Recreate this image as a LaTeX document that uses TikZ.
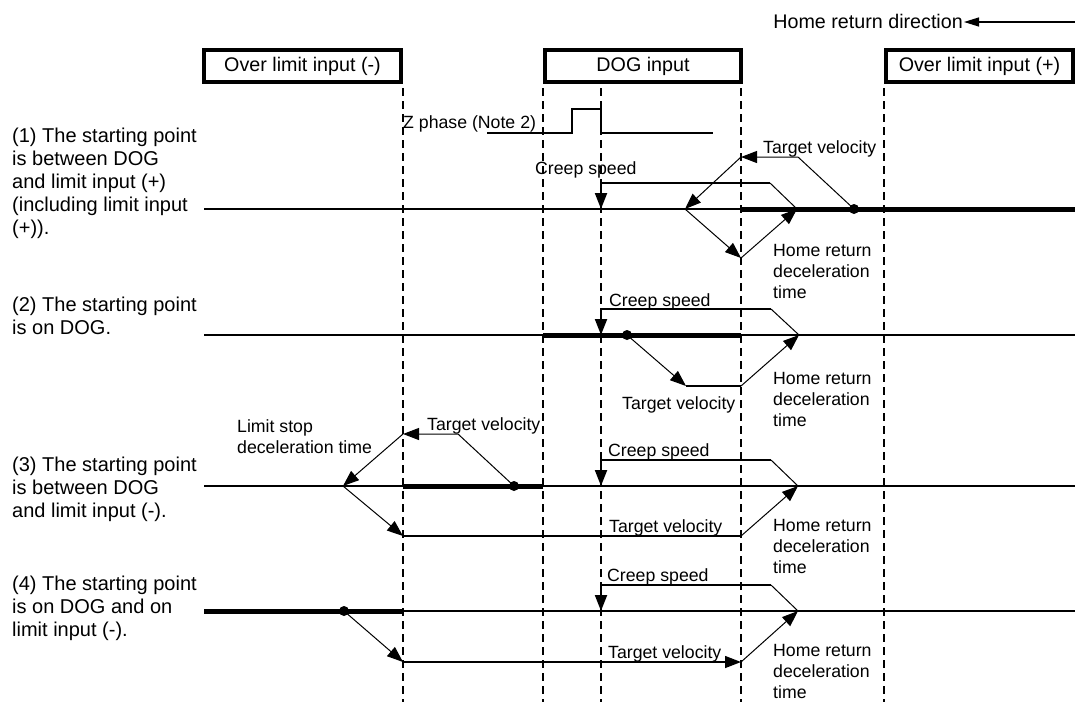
\documentclass[tikz,border=0pt]{standalone}
\usepackage{fontspec}
\setmainfont{Liberation Sans}
\usetikzlibrary{arrows.meta}
\begin{document}
\begin{tikzpicture}[x=1pt,y=-1pt,
  boxtxt/.style={font=\fontsize{19.7}{23}\selectfont},
  lbl/.style={font=\fontsize{17.7}{20.7}\selectfont, inner sep=0pt, anchor=base west, align=left},
  lefttxt/.style={font=\fontsize{20}{23}\selectfont, inner sep=0pt, anchor=base west, align=left},
  inbox/.style={draw, line width=3.5pt, inner sep=0pt, boxtxt},
  guide/.style={line width=1.6pt, dash pattern=on 8pt off 5pt},
  baseln/.style={line width=2pt},
  heavy/.style={line width=5pt},
  thinl/.style={line width=1pt},
  speed/.style={line width=2pt},
  tip/.style={-{Triangle[length=16pt,width=12pt]}},
  dot/.style={circle, fill, inner sep=0pt, minimum size=10pt},
]
\useasboundingbox (0,0) rectangle (1075,702);

% guide lines
\foreach \n/\x in {a/403,b/543,c/601,d/741,e/884}{
  \coordinate (g\n t) at (\x,88);
  \coordinate (g\n b) at (\x,702);
  \draw[guide] (g\n t) -- (g\n b);
}

% header boxes
\node[inbox, minimum width=197pt, minimum height=32pt] (bminus) at (302.5,66) {Over limit input (-)};
\node[inbox, minimum width=196pt, minimum height=32pt] (bdog) at (643,66) {DOG input};
\node[inbox, minimum width=187pt, minimum height=32pt] (bplus) at (979.5,66) {Over limit input (+)};

% home return direction
\node[boxtxt, inner sep=0pt, anchor=base east] (hrd) at (963,28) {Home return direction};
\coordinate (hrs) at (1075,22);
\coordinate (hrt) at (964,22);
\draw[line width=1.2pt, -{Triangle[length=15pt,width=9pt]}] (hrs) -- (hrt);

% left descriptions (anchor = baseline of last line)
\node[lefttxt] (L1) at (12,234) {(1) The starting point\\is between DOG\\and limit input (+)\\(including limit input\\(+)).};
\node[lefttxt] (L2) at (12,334) {(2) The starting point\\is on DOG.};
\node[lefttxt] (L3) at (12,517) {(3) The starting point\\is between DOG\\and limit input (-).};
\node[lefttxt] (L4) at (12,636) {(4) The starting point\\is on DOG and on\\limit input (-).};

% ---------------- Row 1 ----------------
\coordinate (r1s) at (204,209);
\coordinate (r1d) at (741,209);
\coordinate (r1e) at (1075,209);
\draw[baseln] (r1s) -- (r1d);
\draw[heavy] (r1d) -- (r1e);
% Z phase
\coordinate (z0) at (487,133);
\coordinate (z1) at (572,133);
\coordinate (z2) at (572,109);
\coordinate (z3) at (601,109);
\coordinate (z4) at (601,133);
\coordinate (z5) at (713,133);
\draw[speed] (z0) -- (z1) -- (z2) -- (z3) -- (z4) -- (z5);
\node[lbl] (zlab) at (403,128) {Z phase (Note 2)};
% creep
\coordinate (c1a) at (601,183);
\coordinate (c1b) at (770,183);
\coordinate (c1c) at (797,209);
\coordinate (c1t) at (601,209);
\draw[thinl] (c1b) -- (c1c);
\draw[speed,tip] (c1b) -- (c1a) -- (c1t);
% target
\coordinate (t1a) at (798,157);
\coordinate (t1b) at (741,157);
\coordinate (t1c) at (685,209);
\coordinate (t1d) at (741,258);
\node[dot] (d1) at (854,209) {};
\draw[thinl,tip] (d1.center) -- (t1a) -- (t1b);
\draw[thinl,tip] (t1b) -- (t1c);
\draw[thinl,tip] (t1c) -- (t1d);
\draw[thinl,tip] (t1d) -- (c1c);
\node[lbl] (cs1) at (535,174) {Creep speed};
\node[lbl] (tv1) at (763,153) {Target velocity};
\node[lbl] (hr1) at (773,298) {Home return\\deceleration\\time};

% ---------------- Row 2 ----------------
\coordinate (r2s) at (204,335);
\coordinate (r2a) at (543,335);
\coordinate (r2d) at (741,335);
\coordinate (r2e) at (1075,335);
\draw[baseln] (r2s) -- (r2a);
\draw[heavy] (r2a) -- (r2d);
\draw[baseln] (r2d) -- (r2e);
\coordinate (c2a) at (601,309);
\coordinate (c2b) at (771,309);
\coordinate (c2c) at (799,335);
\coordinate (c2t) at (601,335);
\draw[thinl] (c2b) -- (c2c);
\draw[speed,tip] (c2b) -- (c2a) -- (c2t);
\coordinate (t2a) at (686,386);
\coordinate (t2b) at (741,386);
\node[dot] (d2) at (627,335) {};
\draw[thinl,tip] (d2.center) -- (t2a);
\draw[speed] (t2a) -- (t2b);
\draw[thinl,tip] (t2b) -- (c2c);
\node[lbl] (cs2) at (609,306) {Creep speed};
\node[lbl] (tv2) at (622,409) {Target velocity};
\node[lbl] (hr2) at (773,426) {Home return\\deceleration\\time};

% ---------------- Row 3 ----------------
\coordinate (r3s) at (204,486);
\coordinate (r3a) at (403,486);
\coordinate (r3b) at (543,486);
\coordinate (r3e) at (1075,486);
\draw[baseln] (r3s) -- (r3a);
\draw[heavy] (r3a) -- (r3b);
\draw[baseln] (r3b) -- (r3e);
\coordinate (c3a) at (601,460);
\coordinate (c3b) at (771,460);
\coordinate (c3c) at (798,486);
\coordinate (c3t) at (601,486);
\draw[thinl] (c3b) -- (c3c);
\draw[speed,tip] (c3b) -- (c3a) -- (c3t);
\coordinate (t3a) at (458,434);
\coordinate (t3b) at (403,434);
\coordinate (t3c) at (343,486);
\coordinate (t3d) at (403,536);
\coordinate (t3e) at (741,536);
\node[dot] (d3) at (514,486) {};
\draw[thinl,tip] (d3.center) -- (t3a) -- (t3b);
\draw[thinl,tip] (t3b) -- (t3c);
\draw[thinl,tip] (t3c) -- (t3d);
\draw[line width=1.6pt] (t3d) -- (t3e);
\draw[thinl,tip] (t3e) -- (c3c);
\node[lbl] (ls3) at (237,453) {Limit stop\\deceleration time};
\node[lbl] (tv3a) at (427,430) {Target velocity};
\node[lbl] (cs3) at (608,456) {Creep speed};
\node[lbl] (tv3b) at (609,532) {Target velocity};
\node[lbl] (hr3) at (773,573) {Home return\\deceleration\\time};

% ---------------- Row 4 ----------------
\coordinate (r4s) at (204,611);
\coordinate (r4a) at (403,611);
\coordinate (r4e) at (1075,611);
\draw[heavy] (r4s) -- (r4a);
\draw[baseln] (r4a) -- (r4e);
\coordinate (c4a) at (601,585);
\coordinate (c4b) at (771,585);
\coordinate (c4c) at (798,611);
\coordinate (c4t) at (601,611);
\draw[thinl] (c4b) -- (c4c);
\draw[speed,tip] (c4b) -- (c4a) -- (c4t);
\coordinate (t4a) at (403,662);
\coordinate (t4b) at (741,662);
\node[dot] (d4) at (344,611) {};
\draw[thinl,tip] (d4.center) -- (t4a);
\draw[line width=1.4pt,tip] (t4a) -- (t4b);
\draw[thinl,tip] (t4b) -- (c4c);
\node[lbl] (cs4) at (607,581) {Creep speed};
\node[lbl] (tv4) at (608,658) {Target velocity};
\node[lbl] (hr4) at (773,698) {Home return\\deceleration\\time};
\end{tikzpicture}
\end{document}
